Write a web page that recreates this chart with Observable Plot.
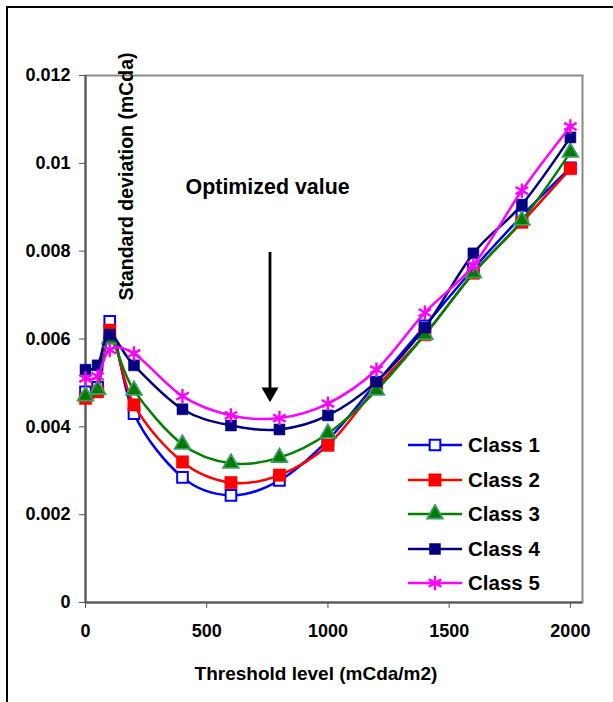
<!DOCTYPE html>
<html>
<head>
<meta charset="utf-8">
<script src="https://cdn.jsdelivr.net/npm/d3@7"></script>
<script src="https://cdn.jsdelivr.net/npm/@observablehq/plot@0.6"></script>
<style>
  html, body { margin: 0; padding: 0; background: #fff; overflow: hidden; }
  body { width: 613px; height: 702px; position: relative; font-family: "Liberation Sans", Arial, sans-serif; }
  #border { position: absolute; left: 6px; top: 6px; width: 700px; height: 800px; border: 2.5px solid #000; box-sizing: border-box; }
  #chart { position: absolute; left: 0; top: 0; }
  #legend { position: absolute; left: 406px; top: 428px; }
  .row { display: flex; align-items: center; height: 34.5px; font-weight: bold; font-size: 20.5px; color: #000; }
  .row svg { margin-right: 4px; }
</style>
</head>
<body>
<div id="border"></div>
<div id="chart"></div>
<div id="legend"></div>
<script>
// ---- data ----
const thresholds = [0, 50, 100, 200, 400, 600, 800, 1000, 1200, 1400, 1600, 1800, 2000];
const class1 = [0.0048, 0.0049, 0.0064, 0.0043, 0.00285, 0.00244, 0.00278, 0.0037, 0.0050, 0.0063, 0.0076, 0.0088, 0.0099];
const class2 = [0.00465, 0.0048, 0.0062, 0.0045, 0.0032, 0.00273, 0.0029, 0.00358, 0.0049, 0.0061, 0.0075, 0.00866, 0.00988];
const class3 = [0.0047, 0.00485, 0.0060, 0.00483, 0.0036, 0.00317, 0.0033, 0.00385, 0.00483, 0.0061, 0.0075, 0.0087, 0.01025];
const class4 = [0.0053, 0.0054, 0.0061, 0.0054, 0.0044, 0.00403, 0.00394, 0.00426, 0.00503, 0.00626, 0.00795, 0.00906, 0.01059];
const class5 = [0.0051, 0.00515, 0.00575, 0.00567, 0.0047, 0.00426, 0.0042, 0.00453, 0.0053, 0.0066, 0.00768, 0.00938, 0.01084];
const seriesNames = ["Class 1", "Class 2", "Class 3", "Class 4", "Class 5"];
const xTicks = [0, 500, 1000, 1500, 2000];
const yTicks = [0, 0.002, 0.004, 0.006, 0.008, 0.01, 0.012];
const xTitle = "Threshold level (mCda/m2)";
const yTitle = "Standard deviation (mCda)";
const annotation = [{x: 751, y: 0.00945, text: "Optimized value"}];
const arrow = [{x: 761, y1: 0.00797, y2: 0.00456}];

// ---- styles ----
const styles = [
  {stroke: "#0000ff", symbol: "square", fill: "#ffffff", mstroke: "#0000ff", r: 6.0, msw: 2},
  {stroke: "#ff0000", symbol: "square", fill: "#ff0000", mstroke: "#ff0000", r: 7.0, msw: 0.5},
  {stroke: "#008000", symbol: "triangle", fill: "#007a00", mstroke: "#3c9c60", r: 5.8, msw: 1.8},
  {stroke: "#000080", symbol: "square", fill: "#000080", mstroke: "#000080", r: 6.2, msw: 0.5},
  {stroke: "#ff00ff", symbol: "asterisk", fill: "none", mstroke: "#ff00ff", r: 6.8, msw: 2.4}
];
const allSeries = [class1, class2, class3, class4, class5];
const data = allSeries.map((vals, i) => thresholds.map((t, j) => ({x: t, y: vals[j], series: seriesNames[i]})));

const marks = [
  Plot.frame({stroke: "#8a8a8a", strokeWidth: 2}),
  Plot.ruleY([0], {stroke: "#555", strokeWidth: 2}),
  Plot.ruleX([0], {stroke: "#555", strokeWidth: 2}),
  Plot.axisX({ticks: xTicks, tickSize: 6, tickPadding: 16, tickFormat: d => String(d), fontSize: 18, fontWeight: "bold", label: null, stroke: "#555"}),
  Plot.axisY({ticks: yTicks, tickSize: 6, tickPadding: 9, tickFormat: "~g", fontSize: 18, fontWeight: "bold", label: null, stroke: "#555"})
];
data.forEach((d, i) => {
  const s = styles[i];
  marks.push(Plot.line(d, {x: "x", y: "y", stroke: s.stroke, strokeWidth: 2.5, curve: "cardinal", tension: 0}));
  marks.push(Plot.dot(d, {x: "x", y: "y", symbol: s.symbol, r: s.r, fill: s.fill, stroke: s.mstroke, strokeWidth: s.msw}));
});
marks.push(
  Plot.ruleX(arrow, {x: "x", y1: "y1", y2: "y2", stroke: "#000", strokeWidth: 2.8, insetBottom: 10}),
  Plot.dot(arrow, {x: "x", y: "y2", symbol: "triangle", rotate: 180, r: 6.3, fill: "#000", dy: -9.8}),
  Plot.text(annotation, {x: "x", y: "y", text: "text", fontSize: 21.4, fontWeight: "bold", fill: "#000", textAnchor: "middle", lineAnchor: "middle"}),
  Plot.text([yTitle], {frameAnchor: "top-left", dx: 41, dy: 101, rotate: -90, fontSize: 19.5, fontWeight: "bold", fill: "#000", textAnchor: "middle", lineAnchor: "middle"}),
  Plot.text([xTitle], {frameAnchor: "bottom", dx: -18, dy: 71, fontSize: 19, fontWeight: "bold", fill: "#000", textAnchor: "middle", lineAnchor: "middle"})
);

const chart = Plot.plot({
  width: 613,
  height: 702,
  marginLeft: 85,
  marginRight: 31,
  marginTop: 75,
  marginBottom: 100,
  style: {fontFamily: "'Liberation Sans', Arial, sans-serif", color: "#000", background: "transparent", overflow: "visible"},
  x: {domain: [0, 2050]},
  y: {domain: [0, 0.012]},
  marks
});
document.getElementById("chart").appendChild(chart);

// ---- legend ----
const legend = d3.select("#legend");
seriesNames.forEach((name, i) => {
  const s = styles[i];
  const row = legend.append("div").attr("class", "row");
  const svg = row.append("svg").attr("width", 58).attr("height", 20);
  svg.append("line").attr("x1", 2).attr("x2", 56).attr("y1", 10).attr("y2", 10).attr("stroke", s.stroke).attr("stroke-width", 2.5);
  const sym = {square: d3.symbolSquare, triangle: d3.symbolTriangle, asterisk: d3.symbolAsterisk}[s.symbol];
  svg.append("path").attr("d", d3.symbol(sym, Math.PI * s.r * s.r)()).attr("transform", "translate(29,10)")
    .attr("fill", s.fill).attr("stroke", s.mstroke).attr("stroke-width", s.msw);
  row.append("span").text(name);
});
</script>
</body>
</html>
